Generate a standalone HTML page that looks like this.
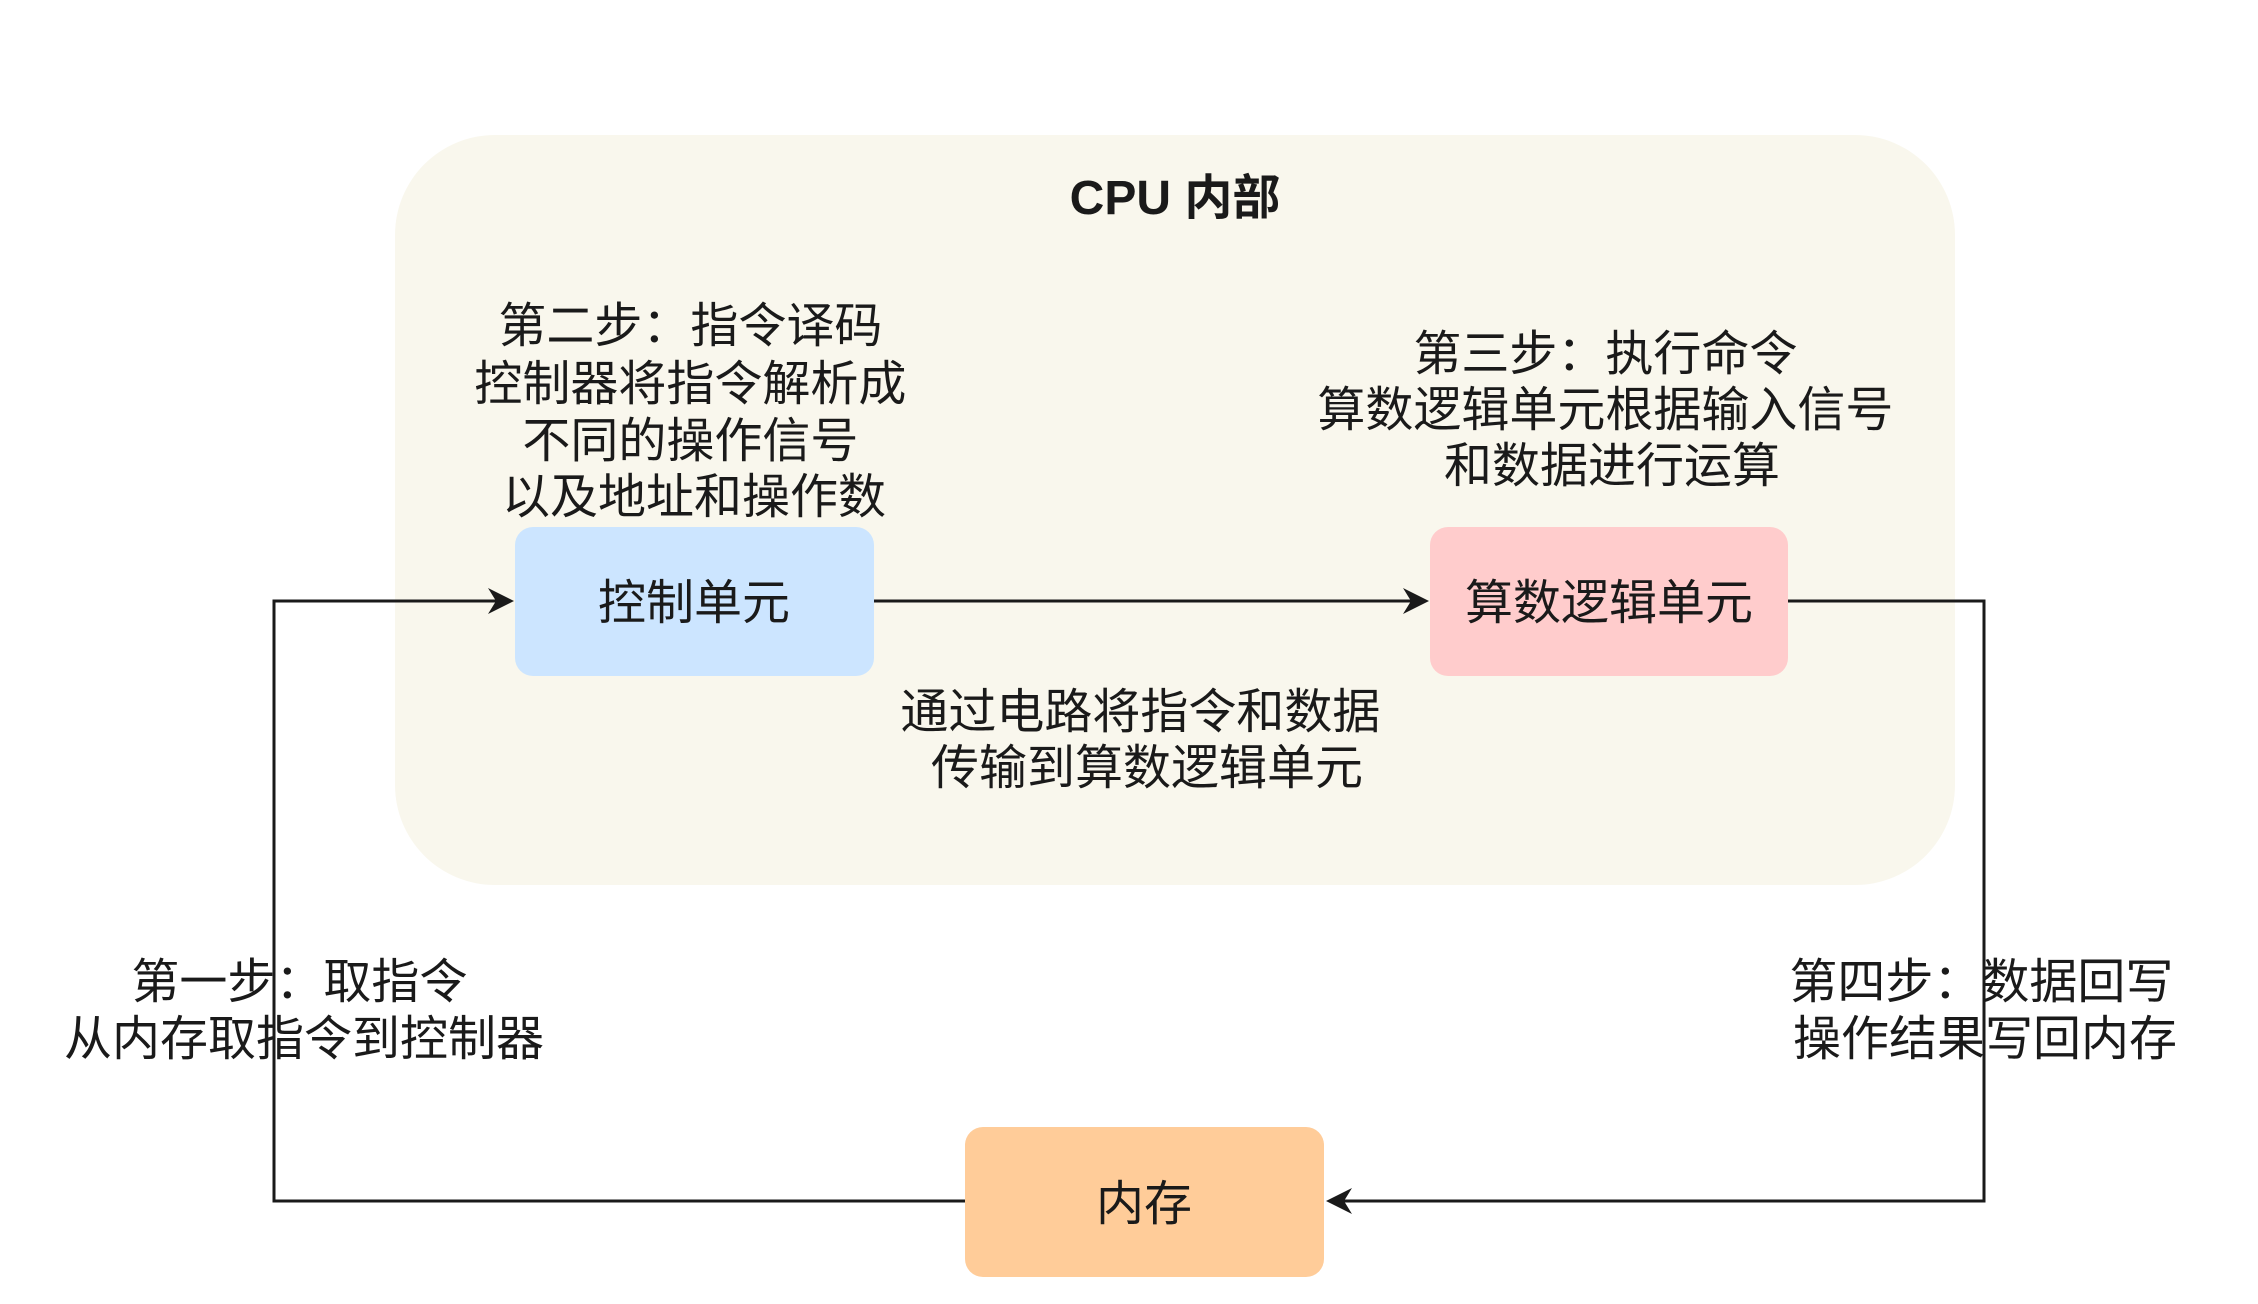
<!DOCTYPE html>
<html>
<head>
<meta charset="utf-8">
<style>
  html, body { margin: 0; padding: 0; background: #ffffff; }
  body { width: 2258px; height: 1304px; overflow: hidden; }
  svg { display: block; }
  text { font-family: "Liberation Sans", "Noto Sans CJK SC", "WenQuanYi Zen Hei", sans-serif; fill: #1a1a1a; font-size: 48px; }
</style>
</head>
<body>
<svg width="2258" height="1304" viewBox="0 0 2258 1304" xmlns="http://www.w3.org/2000/svg">
  <rect x="0" y="0" width="2258" height="1304" fill="#ffffff"/>

  <!-- CPU container -->
  <rect x="395" y="135" width="1560" height="750" rx="100" ry="100" fill="#f9f7ed"/>
  <text x="1175" y="214" text-anchor="middle" font-weight="bold">CPU 内部</text>

  <!-- Connectors -->
  <g fill="none" stroke="#1a1a1a" stroke-width="3">
    <polyline points="965,1201 274,1201 274,601 497,601"/>
    <line x1="874" y1="601" x2="1412" y2="601"/>
    <polyline points="1788,601 1984,601 1984,1201 1344,1201"/>
  </g>
  <g fill="#1a1a1a">
    <path d="M514,601 L488,588 L496,601 L488,614 Z"/>
    <path d="M1429,601 L1403,588 L1411,601 L1403,614 Z"/>
    <path d="M1326,1201 L1352,1188 L1344,1201 L1352,1214 Z"/>
  </g>

  <!-- Boxes -->
  <rect x="515" y="527" width="359" height="149" rx="18" ry="18" fill="#cce5ff"/>
  <rect x="1430" y="527" width="358" height="149" rx="18" ry="18" fill="#ffcccc"/>
  <rect x="965" y="1127" width="359" height="150" rx="18" ry="18" fill="#ffcc99"/>

  <text x="694" y="619" text-anchor="middle">控制单元</text>
  <text x="1609" y="619" text-anchor="middle">算数逻辑单元</text>
  <text x="1144" y="1220" text-anchor="middle">内存</text>

  <!-- Step 2 -->
  <text text-anchor="middle">
    <tspan x="697" y="342">第二步：指令译码</tspan>
    <tspan x="697" y="400">控制器将指令解析成</tspan>
    <tspan x="697" y="457">不同的操作信号</tspan>
    <tspan x="694" y="513">以及地址和操作数</tspan>
  </text>

  <!-- Step 3 -->
  <text text-anchor="middle">
    <tspan x="1612" y="370">第三步：执行命令</tspan>
    <tspan x="1612" y="426">算数逻辑单元根据输入信号</tspan>
    <tspan x="1612" y="482">和数据进行运算</tspan>
  </text>

  <!-- Middle label -->
  <text text-anchor="middle">
    <tspan x="1147" y="728">通过电路将指令和数据</tspan>
    <tspan x="1147" y="784">传输到算数逻辑单元</tspan>
  </text>

  <!-- Step 1 -->
  <text text-anchor="middle">
    <tspan x="306" y="998">第一步：取指令</tspan>
    <tspan x="304" y="1055">从内存取指令到控制器</tspan>
  </text>

  <!-- Step 4 -->
  <text text-anchor="middle">
    <tspan x="1988" y="998">第四步：数据回写</tspan>
    <tspan x="1985" y="1055">操作结果写回内存</tspan>
  </text>
</svg>
</body>
</html>
